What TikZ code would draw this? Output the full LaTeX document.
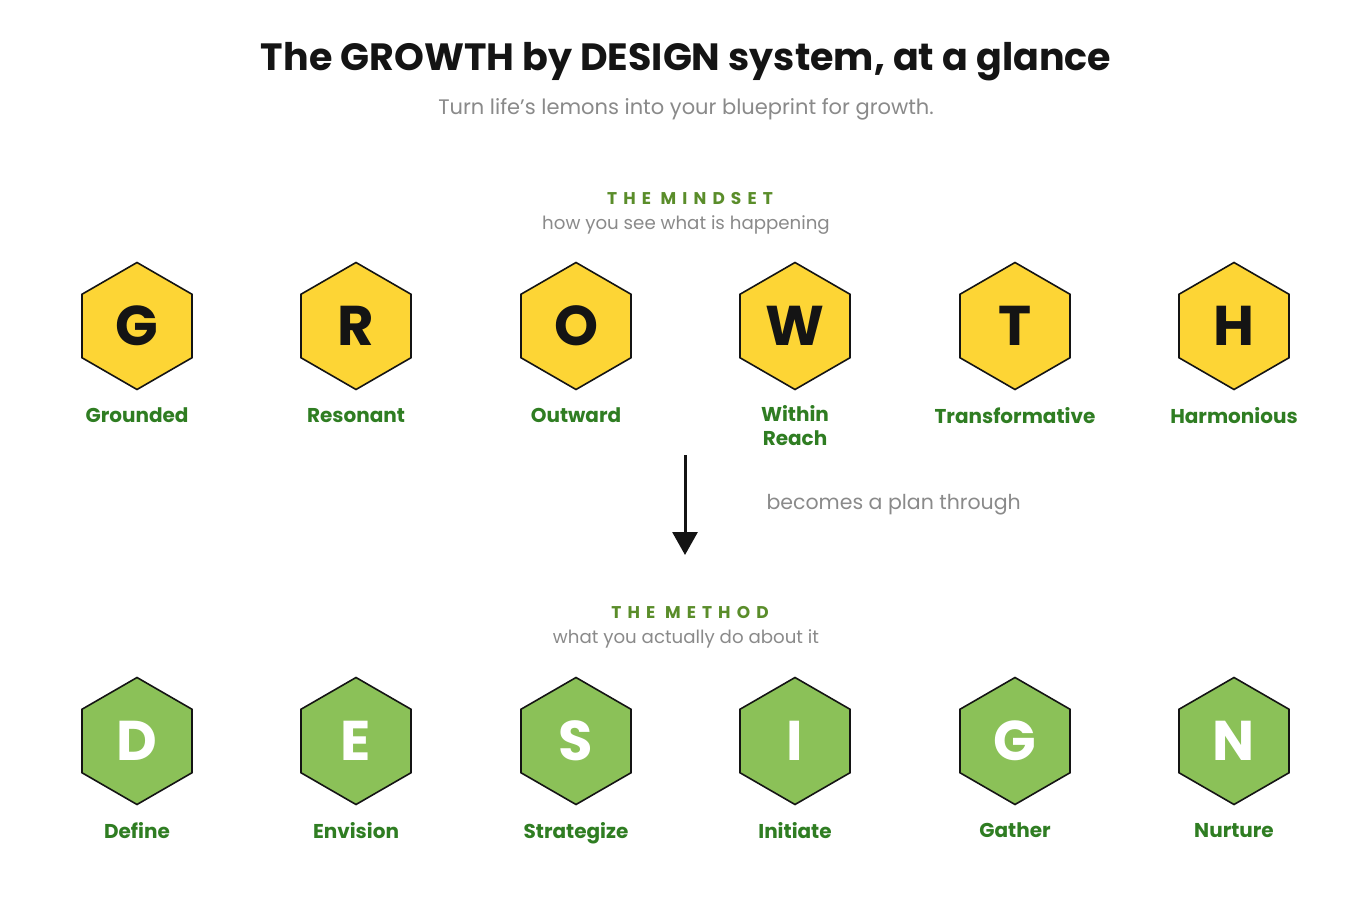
\documentclass[tikz,border=0pt]{standalone}
\usepackage{fontspec}
\setmainfont{Poppins}
\usetikzlibrary{shapes.geometric,arrows.meta}

\definecolor{hexyellow}{HTML}{FDD535}
\definecolor{hexgreen}{HTML}{8BC158}
\definecolor{wordgreen}{HTML}{2F7D22}
\definecolor{headgreen}{HTML}{5A8D2A}
\definecolor{softgrey}{HTML}{8A8A8A}
\definecolor{inkdark}{HTML}{141414}

\begin{document}
\begin{tikzpicture}[x=1pt, y=-1pt,
    hexa/.style={regular polygon, regular polygon sides=6, shape border rotate=30,
      minimum size=127pt, inner sep=0pt, line width=1.6pt, draw=inkdark},
    mindhex/.style={hexa, fill=hexyellow, text=inkdark, font=\fontsize{56}{56}\selectfont\bfseries},
    methhex/.style={hexa, fill=hexgreen, text=white, font=\fontsize{56}{56}\selectfont\bfseries},
    word/.style={text=wordgreen, align=center, text depth=0pt, font=\fontsize{20}{24}\selectfont\bfseries},
    head/.style={text=headgreen, font=\fontsize{17}{17}\selectfont\bfseries\addfontfeature{LetterSpace=36}},
    note/.style={text=softgrey, font=\fontsize{18.2}{18.2}\selectfont}]
      \useasboundingbox (0,0) rectangle (1372,896);
      \fill[white] (0,0) rectangle (1372,896);

      % title block
      \node[text=inkdark, font=\fontsize{38}{38}\selectfont\bfseries] (title) at (686,62) {The GROWTH by DESIGN system, at a glance};
      \node[text=softgrey, font=\fontsize{21}{21}\selectfont] (subtitle) at (686,109) {Turn life’s lemons into your blueprint for growth.};

      % the mindset
      \node[head] (mindhead) at (690,199) {THE MINDSET};
      \node[note] (mindnote) at (686,225) {how you see what is happening};

      \node[mindhex] (g1) at (137,326) {G};
      \node[mindhex] (r1) at (356,326) {R};
      \node[mindhex] (o1) at (576,326) {O};
      \node[mindhex] (w1) at (795,326) {W};
      \node[mindhex] (t1) at (1015,326) {T};
      \node[mindhex] (h1) at (1234,326) {H};

      \node[word] (grounded) at (137,415) {Grounded};
      \node[word] (resonant) at (356,415) {Resonant};
      \node[word] (outward) at (576,415) {Outward};
      \node[word] (within) at (795,425) {Within\\Reach};
      \node[word] (transform) at (1015,415) {Transformative};
      \node[word] (harmonious) at (1234,415) {Harmonious};

      % link between the two rows
      \coordinate (arrowtop) at (685,455);
      \coordinate (arrowbot) at (685,555);
      \draw[line width=3pt, inkdark, -{Triangle[length=23pt,width=25pt]}] (arrowtop) -- (arrowbot);
      \node[text=softgrey, anchor=west, font=\fontsize{20.5}{20.5}\selectfont] (becomes) at (763,505) {becomes a plan through};

      % the method
      \node[head] (methhead) at (690,613) {THE METHOD};
      \node[note] (methnote) at (686,639) {what you actually do about it};

      \node[methhex] (d2) at (137,741) {D};
      \node[methhex] (e2) at (356,741) {E};
      \node[methhex] (s2) at (576,741) {S};
      \node[methhex] (i2) at (795,741) {I};
      \node[methhex] (g2) at (1015,741) {G};
      \node[methhex] (n2) at (1234,741) {N};

      \node[word] (define) at (137,830) {Define};
      \node[word] (envision) at (356,830) {Envision};
      \node[word] (strategize) at (576,830) {Strategize};
      \node[word] (initiate) at (795,830) {Initiate};
      \node[word] (gather) at (1015,830) {Gather};
      \node[word] (nurture) at (1234,830) {Nurture};
\end{tikzpicture}
\end{document}
